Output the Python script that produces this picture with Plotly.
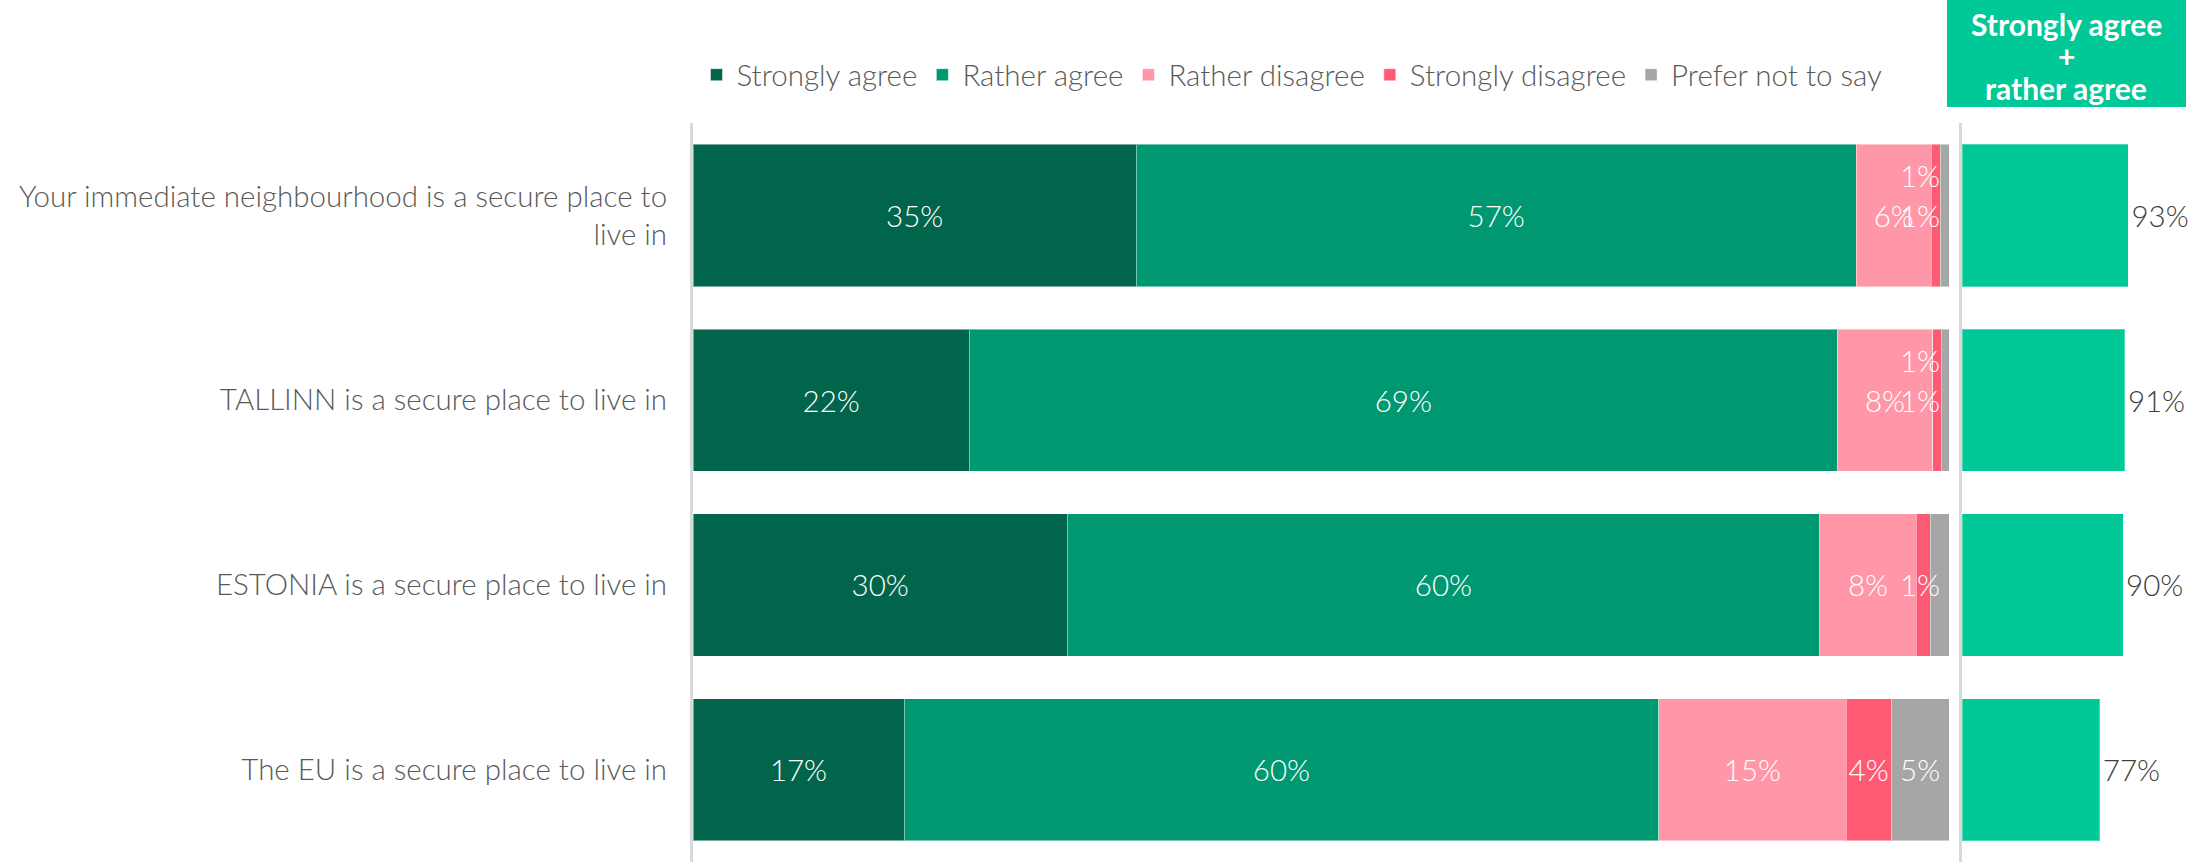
import plotly.graph_objects as go

# ---------------- data ----------------
categories = [
    "Your immediate neighbourhood is a secure place to<br>live in",
    "TALLINN is a secure place to live in",
    "ESTONIA is a secure place to live in",
    "The EU is a secure place to live in",
]
series_names = ["Strongly agree", "Rather agree", "Rather disagree",
                "Strongly disagree", "Prefer not to say"]

strongly_agree = [35.3, 22.0, 29.8, 16.8]
rather_agree = [57.3, 69.1, 59.9, 60.1]
rather_disagree = [6.0, 7.6, 7.7, 14.9]
strongly_disagree = [0.7, 0.7, 1.1, 3.6]
prefer_not = [0.7, 0.6, 1.5, 4.6]

labels_strongly_agree = ["35%", "22%", "30%", "17%"]
labels_rather_agree = ["57%", "69%", "60%", "60%"]
labels_rather_disagree = ["6%", "8%", "8%", "15%"]
labels_strongly_disagree = ["1%", "1%", "1%", "4%"]
labels_prefer_not = ["1%", "1%", "", "5%"]

net_agree = [93, 91, 90, 77]
net_labels = ["93%", "91%", "90%", "77%"]
header_lines = ["Strongly agree", "+", "rather agree"]

colors = ["#00654B", "#009870", "#FF97A8", "#FF5A74", "#A6A6A6"]
net_color = "#00C896"

# ---------------- figure ----------------
W, H = 2188, 865
T, B = 123, 3
PH = H - T - B
FONT = "Lato"
GREY = "#595959"
FS = 29.5

values = [strongly_agree, rather_agree, rather_disagree, strongly_disagree, prefer_not]
labels = [labels_strongly_agree, labels_rather_agree, labels_rather_disagree,
          labels_strongly_disagree, labels_prefer_not]

fig = go.Figure()
annotations = []
totals = [sum(v[i] for v in values) for i in range(len(categories))]

for si, (name, vals, labs, col) in enumerate(zip(series_names, values, labels, colors)):
    texts = []
    for ri, (v, lab) in enumerate(zip(vals, labs)):
        if si >= 3 and v < 2:
            # tiny segments: label placed near the bar end, the second one lifted
            if lab:
                annotations.append(dict(
                    x=totals[ri], y=categories[ri], xref="x", yref="y",
                    text=lab, showarrow=False, xanchor="right", yanchor="middle",
                    xshift=-7, yshift=(40 if si == 4 else 0),
                    font=dict(family=FONT, size=FS, color="white", weight=300)))
            texts.append("")
        else:
            texts.append(lab)
    fig.add_trace(go.Bar(
        name=name, y=categories, x=vals, orientation="h",
        marker=dict(color=col, line=dict(color="rgba(255,255,255,0.45)", width=1)),
        text=texts, textposition="inside", insidetextanchor="middle",
        textangle=0, constraintext="none",
        textfont=dict(family=FONT, size=FS, color="white", weight=300),
        hoverinfo="skip", xaxis="x", yaxis="y"))

fig.add_trace(go.Bar(
    name="Strongly agree + rather agree", y=categories, x=net_agree, orientation="h",
    marker=dict(color=net_color, line=dict(color="rgba(255,255,255,0.3)", width=1)),
    text=net_labels, textposition="outside", cliponaxis=False, constraintext="none",
    textfont=dict(family=FONT, size=FS, color="#404040", weight=300),
    showlegend=False, hoverinfo="skip", xaxis="x2", yaxis="y2"))

# header box over the right panel
fig.add_shape(type="rect", xref="paper", yref="paper",
              x0=1947 / W, x1=2186 / W,
              y0=(H - B - 107) / PH, y1=(H - B) / PH,
              fillcolor=net_color, line=dict(width=0), layer="above")
for li, line in enumerate(header_lines):
    annotations.append(dict(
        x=2066 / W, y=(H - B - (24 + 32 * li)) / PH, xref="paper", yref="paper",
        text="<b>%s</b>" % line, showarrow=False, xanchor="center", yanchor="middle",
        font=dict(family=FONT, size=30, color="white")))

fig.update_layout(
    width=W, height=H,
    margin=dict(l=0, r=0, t=T, b=B),
    paper_bgcolor="white", plot_bgcolor="white",
    barmode="stack", bargap=0.23,
    font=dict(family=FONT, size=FS, color=GREY, weight=300),
    legend=dict(orientation="h", x=1292 / W, xanchor="center",
                y=(H - B - 75) / PH, yanchor="middle",
                font=dict(family=FONT, size=29.5, color=GREY, weight=300),
                bgcolor="rgba(0,0,0,0)", itemclick=False, traceorder="normal"),
    xaxis=dict(domain=[693 / W, 1949 / W], range=[0, 100], visible=False,
               fixedrange=True, anchor="y"),
    xaxis2=dict(domain=[1962 / W, (1962 + 179) / W], range=[0, 100], visible=False,
                fixedrange=True, anchor="y2"),
    yaxis=dict(type="category", categoryorder="array", categoryarray=categories,
               range=[3.5, -0.5], showline=True, linecolor="#D9D9D9", linewidth=3,
               showgrid=False, zeroline=False, ticks="", ticklabelstandoff=17,
               tickfont=dict(family=FONT, size=FS, color=GREY, weight=300),
               anchor="x", fixedrange=True),
    yaxis2=dict(type="category", categoryorder="array", categoryarray=categories,
                range=[3.5, -0.5], showline=True, linecolor="#D9D9D9", linewidth=3,
                showgrid=False, zeroline=False, showticklabels=False, ticks="",
                anchor="x2", fixedrange=True),
    annotations=annotations,
    showlegend=True,
)

fig.write_html(
    "out.html",
    config={"displayModeBar": False},
    post_script="document.body.style.margin='0';document.body.style.overflow='hidden';",
)
